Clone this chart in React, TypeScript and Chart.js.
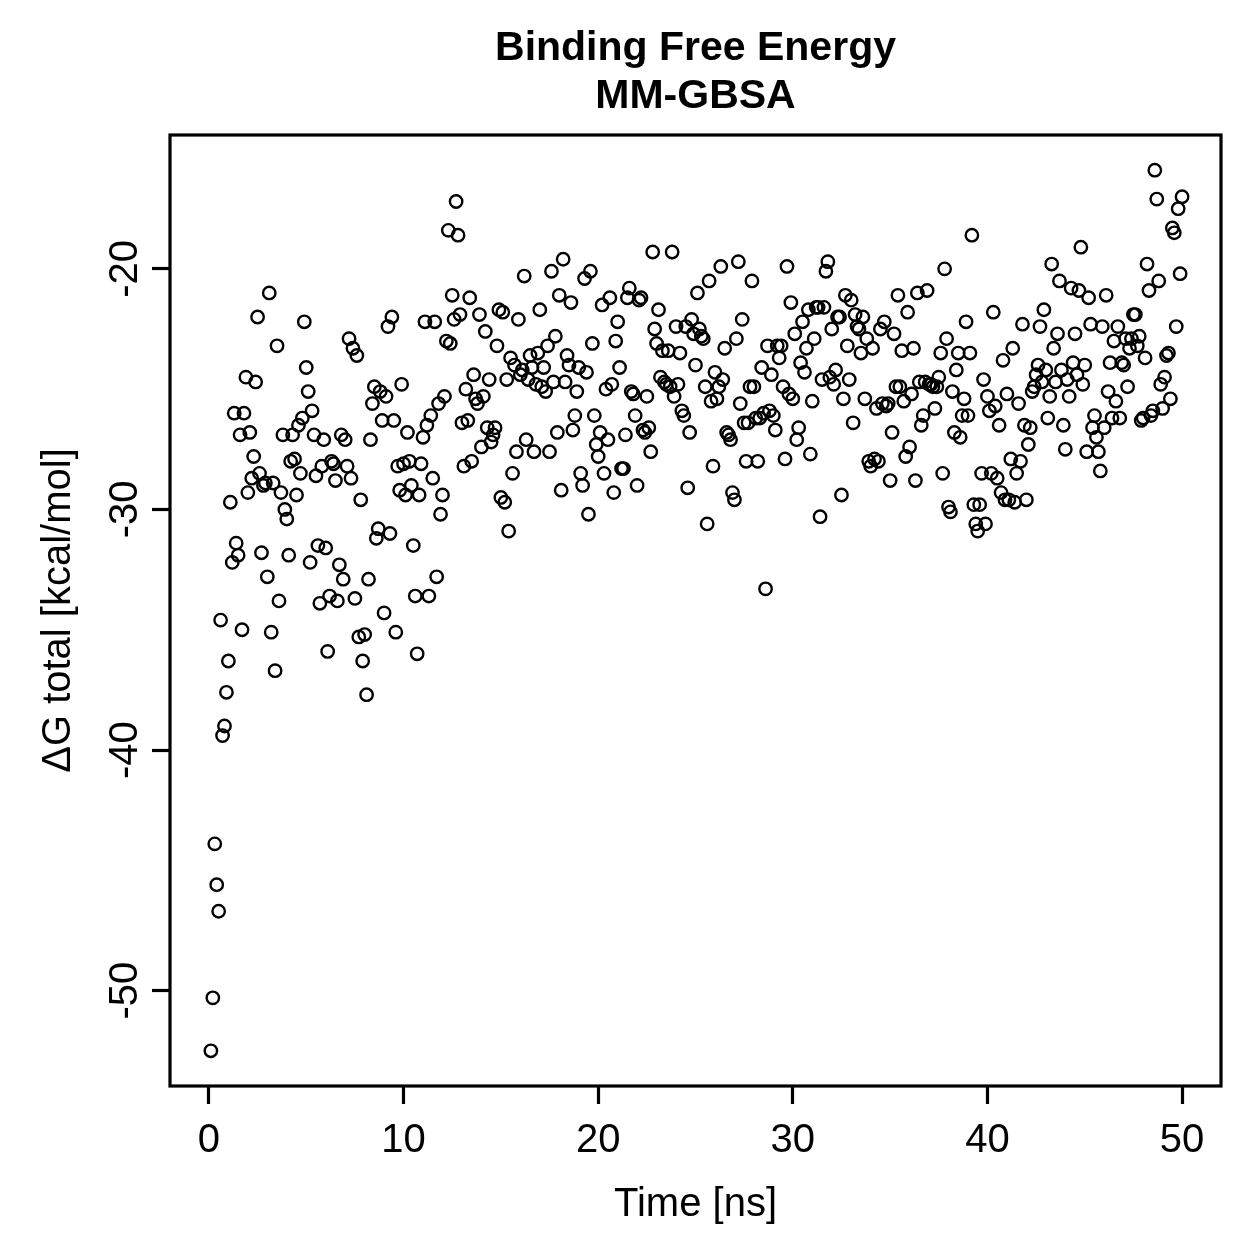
import { useEffect, useRef } from "react";
import { Chart, registerables } from "chart.js";

Chart.register(...registerables);

// Simulation time of each MM-GBSA snapshot (ns)
const timeNs = [
  0.1, 0.2, 0.3, 0.4, 0.5, 0.6, 0.7, 0.8, 0.9, 1.0,
  1.1, 1.2, 1.3, 1.4, 1.5, 1.6, 1.7, 1.8, 1.9, 2.0,
  2.1, 2.2, 2.3, 2.4, 2.5, 2.6, 2.7, 2.8, 2.9, 3.0,
  3.1, 3.2, 3.3, 3.4, 3.5, 3.6, 3.7, 3.8, 3.9, 4.0,
  4.1, 4.2, 4.3, 4.4, 4.5, 4.6, 4.7, 4.8, 4.9, 5.0,
  5.1, 5.2, 5.3, 5.4, 5.5, 5.6, 5.7, 5.8, 5.9, 6.0,
  6.1, 6.2, 6.3, 6.4, 6.5, 6.6, 6.7, 6.8, 6.9, 7.0,
  7.1, 7.2, 7.3, 7.4, 7.5, 7.6, 7.7, 7.8, 7.9, 8.0,
  8.1, 8.2, 8.3, 8.4, 8.5, 8.6, 8.7, 8.8, 8.9, 9.0,
  9.1, 9.2, 9.3, 9.4, 9.5, 9.6, 9.7, 9.8, 9.9, 10.0,
  10.1, 10.2, 10.3, 10.4, 10.5, 10.6, 10.7, 10.8, 10.9, 11.0,
  11.1, 11.2, 11.3, 11.4, 11.5, 11.6, 11.7, 11.8, 11.9, 12.0,
  12.1, 12.2, 12.3, 12.4, 12.5, 12.6, 12.7, 12.8, 12.9, 13.0,
  13.1, 13.2, 13.3, 13.4, 13.5, 13.6, 13.7, 13.8, 13.9, 14.0,
  14.1, 14.2, 14.3, 14.4, 14.5, 14.6, 14.7, 14.8, 14.9, 15.0,
  15.1, 15.2, 15.3, 15.4, 15.5, 15.6, 15.7, 15.8, 15.9, 16.0,
  16.1, 16.2, 16.3, 16.4, 16.5, 16.6, 16.7, 16.8, 16.9, 17.0,
  17.1, 17.2, 17.3, 17.4, 17.5, 17.6, 17.7, 17.8, 17.9, 18.0,
  18.1, 18.2, 18.3, 18.4, 18.5, 18.6, 18.7, 18.8, 18.9, 19.0,
  19.1, 19.2, 19.3, 19.4, 19.5, 19.6, 19.7, 19.8, 19.9, 20.0,
  20.1, 20.2, 20.3, 20.4, 20.5, 20.6, 20.7, 20.8, 20.9, 21.0,
  21.1, 21.2, 21.3, 21.4, 21.5, 21.6, 21.7, 21.8, 21.9, 22.0,
  22.1, 22.2, 22.3, 22.4, 22.5, 22.6, 22.7, 22.8, 22.9, 23.0,
  23.1, 23.2, 23.3, 23.4, 23.5, 23.6, 23.7, 23.8, 23.9, 24.0,
  24.1, 24.2, 24.3, 24.4, 24.5, 24.6, 24.7, 24.8, 24.9, 25.0,
  25.1, 25.2, 25.3, 25.4, 25.5, 25.6, 25.7, 25.8, 25.9, 26.0,
  26.1, 26.2, 26.3, 26.4, 26.5, 26.6, 26.7, 26.8, 26.9, 27.0,
  27.1, 27.2, 27.3, 27.4, 27.5, 27.6, 27.7, 27.8, 27.9, 28.0,
  28.1, 28.2, 28.3, 28.4, 28.5, 28.6, 28.7, 28.8, 28.9, 29.0,
  29.1, 29.2, 29.3, 29.4, 29.5, 29.6, 29.7, 29.8, 29.9, 30.0,
  30.1, 30.2, 30.3, 30.4, 30.5, 30.6, 30.7, 30.8, 30.9, 31.0,
  31.1, 31.2, 31.3, 31.4, 31.5, 31.6, 31.7, 31.8, 31.9, 32.0,
  32.1, 32.2, 32.3, 32.4, 32.5, 32.6, 32.7, 32.8, 32.9, 33.0,
  33.1, 33.2, 33.3, 33.4, 33.5, 33.6, 33.7, 33.8, 33.9, 34.0,
  34.1, 34.2, 34.3, 34.4, 34.5, 34.6, 34.7, 34.8, 34.9, 35.0,
  35.1, 35.2, 35.3, 35.4, 35.5, 35.6, 35.7, 35.8, 35.9, 36.0,
  36.1, 36.2, 36.3, 36.4, 36.5, 36.6, 36.7, 36.8, 36.9, 37.0,
  37.1, 37.2, 37.3, 37.4, 37.5, 37.6, 37.7, 37.8, 37.9, 38.0,
  38.1, 38.2, 38.3, 38.4, 38.5, 38.6, 38.7, 38.8, 38.9, 39.0,
  39.1, 39.2, 39.3, 39.4, 39.5, 39.6, 39.7, 39.8, 39.9, 40.0,
  40.1, 40.2, 40.3, 40.4, 40.5, 40.6, 40.7, 40.8, 40.9, 41.0,
  41.1, 41.2, 41.3, 41.4, 41.5, 41.6, 41.7, 41.8, 41.9, 42.0,
  42.1, 42.2, 42.3, 42.4, 42.5, 42.6, 42.7, 42.8, 42.9, 43.0,
  43.1, 43.2, 43.3, 43.4, 43.5, 43.6, 43.7, 43.8, 43.9, 44.0,
  44.1, 44.2, 44.3, 44.4, 44.5, 44.6, 44.7, 44.8, 44.9, 45.0,
  45.1, 45.2, 45.3, 45.4, 45.5, 45.6, 45.7, 45.8, 45.9, 46.0,
  46.1, 46.2, 46.3, 46.4, 46.5, 46.6, 46.7, 46.8, 46.9, 47.0,
  47.1, 47.2, 47.3, 47.4, 47.5, 47.6, 47.7, 47.8, 47.9, 48.0,
  48.1, 48.2, 48.3, 48.4, 48.5, 48.6, 48.7, 48.8, 48.9, 49.0,
  49.1, 49.2, 49.3, 49.4, 49.5, 49.6, 49.7, 49.8, 49.9, 50.0,
];

// Total binding free energy per snapshot (kcal/mol)
const dgTotal = [
  -52.5, -50.3, -43.9, -45.6, -46.7, -34.6, -39.4, -39.0, -37.6, -36.3,
  -29.7, -32.2, -26.0, -31.4, -31.9, -26.9, -35.0, -26.0, -24.5, -29.3,
  -26.8, -28.7, -27.8, -24.7, -22.0, -28.5, -31.8, -29.0, -28.9, -32.8,
  -21.0, -35.1, -28.9, -36.7, -23.2, -33.8, -29.3, -26.9, -30.0, -30.4,
  -31.9, -28.0, -26.9, -27.9, -29.4, -26.5, -28.5, -26.2, -22.2, -24.1, -25.1,
  -32.2, -25.9, -26.9, -28.6, -31.5, -33.9, -28.2, -27.1, -31.6, -35.9,
  -33.6, -28.0, -28.1, -28.8, -33.8, -32.3, -26.9, -32.9, -27.1, -28.2, -22.9,
  -28.7, -23.3, -33.7, -23.6, -35.3, -29.6, -36.3, -35.2, -37.7, -32.9,
  -27.1, -25.6, -24.9, -31.2, -30.8, -25.1, -26.3, -34.3, -25.3, -22.4,
  -31.0, -22.0, -26.3, -35.1, -28.2, -29.2, -24.8, -28.1, -29.4, -26.8,
  -28.0, -29.0, -31.5, -33.6, -36.0, -29.4, -28.1, -27.0, -22.2, -26.5,
  -33.6, -26.1, -28.7, -22.2, -32.8, -25.6, -30.2, -29.4, -25.3, -23.0,
  -18.4, -23.1, -21.1, -22.1, -17.2, -18.6, -21.9, -26.4, -28.2, -25.0,
  -26.3, -21.2, -28.0, -24.4, -25.4, -25.6, -21.9, -27.4, -25.3, -22.6,
  -26.6, -24.6, -27.2, -26.9, -26.6, -23.2, -21.7, -29.5, -21.8, -29.7, -24.6,
  -30.9, -23.7, -28.5, -24.0, -27.6, -22.1, -24.4, -24.2, -20.3, -27.1,
  -24.6, -23.6, -24.1, -27.6, -24.8, -23.5, -21.7, -24.9, -24.1, -25.1,
  -23.2, -27.6, -20.1, -24.7, -22.8, -26.8, -21.1, -29.2, -19.6, -24.7,
  -23.6, -24.0, -21.4, -26.7, -26.1, -25.1, -24.1, -28.5, -29.0, -20.4,
  -24.3, -30.2, -20.1, -23.1, -26.1, -27.3, -27.8, -26.8, -21.5, -28.5, -25.0,
  -27.1, -21.2, -24.8, -29.3, -23.0, -22.2, -24.1, -28.3, -28.3, -26.9,
  -21.2, -20.8, -25.1, -25.2, -26.1, -29.0, -21.3, -21.2, -26.7, -26.8,
  -25.3, -26.6, -27.6, -19.3, -22.5, -23.1, -21.7, -24.5, -23.4, -24.7,
  -24.8, -23.4, -24.9, -19.3, -25.3, -22.4, -24.8, -23.5, -25.9, -26.1,
  -22.4, -29.1, -26.8, -22.1, -22.7, -24.0, -21.0, -22.5, -22.8, -22.9, -24.9,
  -30.6, -20.5, -25.5, -28.2, -24.3, -25.4, -24.9, -19.9, -24.6, -23.3,
  -26.8, -26.9, -27.1, -29.3, -29.6, -22.9, -19.7, -25.6, -22.1, -26.4,
  -28.0, -26.4, -24.9, -20.5, -24.9, -26.2, -28.0, -26.2, -24.1, -26.0,
  -33.3, -23.2, -25.9, -24.4, -26.1, -26.7, -23.2, -23.7, -23.2, -24.9,
  -27.9, -19.9, -25.2, -21.4, -25.4, -22.7, -27.1, -26.6, -23.9, -22.2, -24.3,
  -23.3, -21.7, -27.7, -25.5, -22.9, -21.6, -21.6, -30.3, -24.6, -21.6,
  -20.1, -19.7, -24.5, -22.5, -24.8, -24.2, -22.0, -22.0, -29.4, -25.4,
  -21.1, -23.2, -24.6, -21.3, -26.4, -21.9, -22.4, -22.5, -23.5, -22.0,
  -25.4, -22.9, -28.0, -28.2, -23.3, -27.9, -25.8, -28.0, -22.5, -25.6,
  -22.2, -25.7, -25.6, -28.8, -26.8, -22.7, -24.9, -21.1, -24.9, -23.4, -25.5,
  -27.8, -21.8, -27.4, -25.2, -23.3, -28.8, -21.0, -24.7, -26.5, -26.1,
  -24.7, -20.9, -24.8, -24.8, -24.9, -25.8, -24.9, -24.5, -23.5, -28.5,
  -20.0, -22.9, -29.9, -30.1, -25.1, -26.8, -24.2, -23.5, -27.0, -26.1,
  -25.4, -22.2, -26.1, -23.5, -18.6, -29.8, -30.6, -30.9, -29.8, -28.5,
  -24.6, -30.6, -25.3, -25.9, -28.5, -21.8, -25.7, -28.7, -26.5, -29.3, -23.8,
  -29.6, -25.2, -29.6, -27.9, -23.3, -29.7, -28.5, -25.6, -28.0, -22.3,
  -26.5, -29.6, -27.3, -26.6, -25.1, -24.9, -24.4, -24.0, -22.4, -24.7,
  -21.7, -24.2, -26.2, -25.3, -19.8, -23.3, -24.7, -22.7, -20.5, -24.2,
  -26.5,
  -27.5, -24.6, -25.3, -20.8, -23.9, -22.7, -24.4, -20.9, -19.1, -24.8, -24.0,
  -27.6, -21.2, -22.3, -26.6, -26.1, -27.0, -27.6, -28.4, -22.4, -26.6,
  -21.1, -25.1, -23.9, -26.2, -23.0, -25.5, -22.4, -26.2, -23.9, -24.0,
  -22.9, -24.9, -23.3, -22.9, -21.9, -21.9, -23.2, -22.8, -26.3, -26.2,
  -23.7, -19.8, -20.9, -26.1, -25.9, -15.9, -17.1, -20.5, -24.8, -25.8,
  -24.5, -23.6, -23.5, -25.4, -18.3, -18.5, -22.4, -17.5, -20.2, -17.0,
];

const xTicks = [0, 10, 20, 30, 40, 50];
const yTicks = [-50, -40, -30, -20];
const titleLines = ["Binding Free Energy", "MM-GBSA"];
const xTitle = "Time [ns]";
const yTitle = "ΔG total [kcal/mol]";

const FONT = '"Liberation Sans", Arial, Helvetica, sans-serif';
const W = 1259;
const H = 1259;

// 4% padding beyond the data range on each side
function paddedRange(values: number[]) {
  const lo = Math.min(...values);
  const hi = Math.max(...values);
  const pad = (hi - lo) * 0.04;
  return [lo - pad, hi + pad];
}

const decorPlugin = {
  id: "decor",
  afterDraw(chart: any) {
    const { ctx, chartArea: a, scales } = chart;
    ctx.save();
    // plot frame
    ctx.strokeStyle = "#000";
    ctx.lineWidth = 3.2;
    ctx.strokeRect(a.left, a.top, a.right - a.left, a.bottom - a.top);

    ctx.fillStyle = "#000";
    ctx.textAlign = "center";
    ctx.textBaseline = "alphabetic";

    // tick labels
    ctx.font = `40px ${FONT}`;
    xTicks.forEach((v) => {
      ctx.fillText(String(v), scales.x.getPixelForValue(v), 1152);
    });
    yTicks.forEach((v) => {
      const y = scales.y.getPixelForValue(v);
      ctx.save();
      ctx.translate(137, y);
      ctx.rotate(-Math.PI / 2);
      ctx.fillText(String(v), 0, 0);
      ctx.restore();
    });

    // axis titles
    const cx = (a.left + a.right) / 2;
    const cy = (a.top + a.bottom) / 2;
    ctx.fillText(xTitle, cx, 1216);
    ctx.save();
    ctx.translate(70, cy);
    ctx.rotate(-Math.PI / 2);
    ctx.fillText(yTitle, 0, 0);
    ctx.restore();

    // main title
    ctx.font = `bold 41px ${FONT}`;
    ctx.fillText(titleLines[0], cx, 60);
    ctx.fillText(titleLines[1], cx, 108);
    ctx.restore();
  },
};

export default function App() {
  const canvasRef = useRef<HTMLCanvasElement | null>(null);

  useEffect(() => {
    document.body.style.margin = "0";
    const canvas = canvasRef.current;
    if (!canvas) return;
    const [yMin, yMax] = paddedRange(dgTotal);
    const [xMin, xMax] = paddedRange(timeNs.concat([0]));

    const chart = new Chart(canvas, {
      type: "scatter",
      data: {
        datasets: [
          {
            data: timeNs.map((t, i) => ({ x: t, y: dgTotal[i] })),
            pointStyle: "circle",
            pointRadius: 6.2,
            pointHoverRadius: 6.2,
            pointBorderWidth: 2.4,
            pointBorderColor: "#000",
            pointBackgroundColor: "rgba(0,0,0,0)",
            borderColor: "#000",
            backgroundColor: "rgba(0,0,0,0)",
          },
        ],
      },
      options: {
        animation: false,
        responsive: false,
        devicePixelRatio: 1,
        events: [],
        layout: { padding: { top: 135, right: 38, left: 0, bottom: 0 } },
        plugins: {
          legend: { display: false },
          tooltip: { enabled: false },
          title: { display: false },
        },
        scales: {
          x: {
            type: "linear",
            min: xMin,
            max: xMax,
            afterBuildTicks: (s: any) => {
              s.ticks = xTicks.map((v) => ({ value: v }));
            },
            afterFit: (s: any) => {
              s.height = 173;
            },
            ticks: { display: false },
            border: { display: false },
            grid: {
              display: true,
              drawOnChartArea: false,
              drawTicks: true,
              tickLength: 18,
              tickWidth: 3.2,
              tickColor: "#000",
            },
          },
          y: {
            type: "linear",
            min: yMin,
            max: yMax,
            afterBuildTicks: (s: any) => {
              s.ticks = yTicks.map((v) => ({ value: v }));
            },
            afterFit: (s: any) => {
              s.width = 170;
            },
            ticks: { display: false },
            border: { display: false },
            grid: {
              display: true,
              drawOnChartArea: false,
              drawTicks: true,
              tickLength: 18,
              tickWidth: 3.2,
              tickColor: "#000",
            },
          },
        },
      },
      plugins: [decorPlugin],
    });
    return () => chart.destroy();
  }, []);

  return (
    <div style={{ width: W, height: H, background: "#fff" }}>
      <canvas
        ref={canvasRef}
        width={W}
        height={H}
        style={{ display: "block", width: W, height: H }}
      />
    </div>
  );
}
